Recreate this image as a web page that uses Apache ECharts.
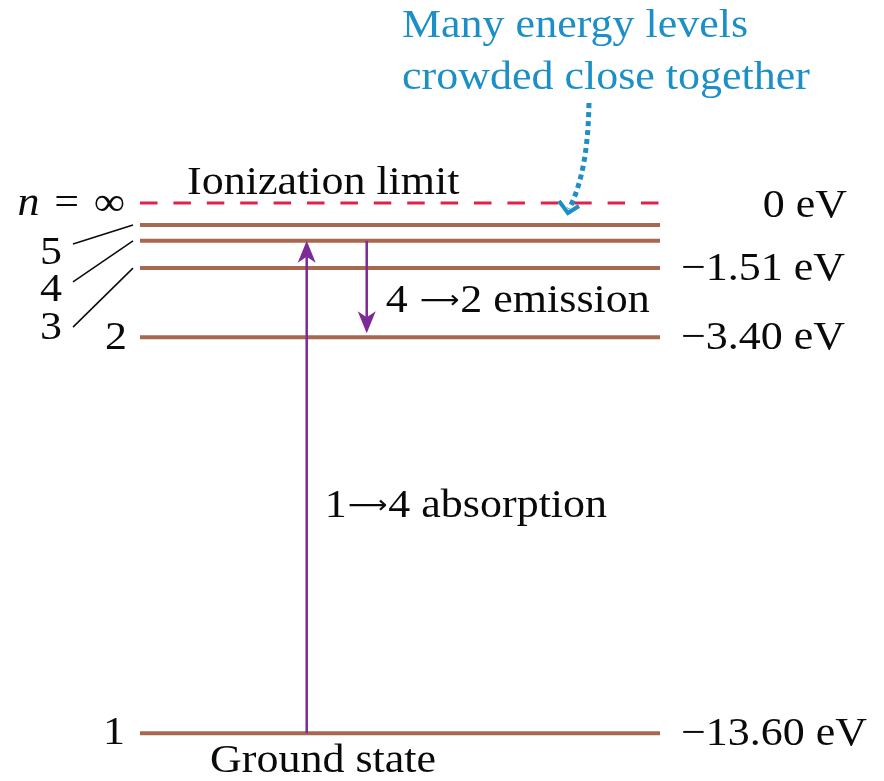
<!DOCTYPE html>
<html><head><meta charset="utf-8">
<script src="https://cdn.jsdelivr.net/npm/echarts@6/dist/echarts.min.js"></script>
<style>html,body{margin:0;padding:0;background:#fff}#c{width:884px;height:781px}</style>
</head><body><div id="c"></div>
<script>
// ---- data ----
const levelN = [1, 2, 3, 4, 5];
const levelEnergy = [-13.6, -3.44, -1.67, -0.97, -0.565];   // drawn position (eV scale)
const levelValueLabels = ['−13.60 eV', '−3.40 eV', '−1.51 eV', '', ''];
const limitEnergy = [0];
const limitValueLabels = ['0 eV'];
const limitName = 'Ionization limit';
const transFrom = [1, 4];
const transTo = [4, 2];
const transX = [32.06, 43.6];        // horizontal position along the levels (0–100)
const transLabels = ['1{a|⟶}4 absorption', '4 {a|⟶}2 emission'];
const noteLines = ['Many energy levels', 'crowded close together'];
const noteTarget = [82.3, 0];        // where the dotted arrow points (x 0–100, eV)
const groundLabel = 'Ground state';

// ---- styles / layout ----
const FAMILY = 'Liberation Serif';
const FS = 40, SX = 1.1;
const C = { level: '#a8684f', limit: '#e2214b', arrow: '#7b2a96', text: '#0a0a0a', note: '#1b8fc6' };
const PX_PER_EV = (733.3 - 203) / 13.6;
const Y_MIN = -14, Y_MAX = 0.5;
const arrowRich = { a: { fontFamily: 'DejaVu Sans', fontSize: 25, fill: C.text, padding: [0, 1, 0, 1] } };

function txt(x, y, text, o) {
  o = o || {};
  const st = {
    text: text,
    fontFamily: FAMILY,
    fontSize: FS,
    fontStyle: 'normal',
    fill: o.fill || C.text,
    align: o.align || 'left',
    verticalAlign: 'middle'
  };
  if (o.rich) st.rich = o.rich;
  return { type: 'text', x: x, y: y, scaleX: SX, style: st };
}

// left-label layout for each level (pixels relative to level start)
const leftLabelLayout = {
  1: { dx: -15, dy: 0 },
  2: { dx: -13, dy: 1 },
  3: { dx: -78, dy: 60, leader: [-67, 59] },
  4: { dx: -78, dy: 50, leader: [-67, 41] },
  5: { dx: -78, dy: 28, leader: [-67, 19] }
};
const transLayout = [{ dx: 18, dy: 19, gap: 0 }, { dx: 19, dy: 13, gap: 4 }];

const levelSeries = {
  type: 'custom', silent: true,
  data: levelN.map((n, i) => [n, levelEnergy[i]]),
  encode: { y: 1 },
  renderItem: function (params, api) {
    const i = params.dataIndex;
    const n = levelN[i];
    const e = api.value(1);
    const p0 = api.coord([0, e]);
    const p1 = api.coord([100, e]);
    const y = p0[1];
    const ch = [{ type: 'line', shape: { x1: p0[0], y1: y, x2: p1[0], y2: y },
      style: { stroke: C.level, lineWidth: 4 } }];
    const L = leftLabelLayout[n];
    ch.push(txt(p0[0] + L.dx, y + L.dy, String(n), { align: 'right' }));
    if (L.leader) {
      ch.push({ type: 'line', shape: { x1: p0[0] + L.leader[0], y1: y + L.leader[1], x2: p0[0] - 7, y2: y },
        style: { stroke: C.text, lineWidth: 1.5 } });
    }
    if (levelValueLabels[i]) ch.push(txt(p1[0] + 21, y + 1, levelValueLabels[i]));
    if (n === 1) ch.push(txt(p0[0] + 70, y + 28, groundLabel));
    return { type: 'group', children: ch };
  }
};

const limitSeries = {
  type: 'custom', silent: true,
  data: limitEnergy.map(e => [0, e]),
  encode: { y: 1 },
  renderItem: function (params, api) {
    const e = api.value(1);
    const p0 = api.coord([0, e]);
    const p1 = api.coord([100, e]);
    const y = p0[1];
    return { type: 'group', children: [
      { type: 'line', shape: { x1: p0[0], y1: y, x2: p1[0], y2: y },
        style: { stroke: C.limit, lineWidth: 3, lineDash: [17.5, 15.9] } },
      txt(p0[0] - 15, y + 1, '{i|n}\u2004=\u2004∞', { align: 'right',
        rich: { i: { fontStyle: 'italic', fontSize: FS, fontFamily: FAMILY, fill: C.text } } }),
      txt(p1[0] + 187, y + 3, limitValueLabels[params.dataIndex], { align: 'right' }),
      txt(p0[0] + 47, y - 20, limitName)
    ] };
  }
};

const transSeries = {
  type: 'custom', silent: true,
  data: transFrom.map((f, i) => [transX[i], levelEnergy[f - 1], levelEnergy[transTo[i] - 1]]),
  encode: { x: 0, y: [1, 2] },
  renderItem: function (params, api) {
    const i = params.dataIndex;
    const a = api.coord([api.value(0), api.value(1)]);
    const b = api.coord([api.value(0), api.value(2)]);
    const x = a[0];
    const dir = b[1] > a[1] ? 1 : -1;
    const lay = transLayout[i];
    const tip = b[1] - dir * lay.gap;
    const HL = 22, HW = 9, NOTCH = 6;
    const mid = (a[1] + b[1]) / 2;
    return { type: 'group', children: [
      { type: 'line', shape: { x1: x, y1: a[1], x2: x, y2: tip - dir * (HL - NOTCH) },
        style: { stroke: C.arrow, lineWidth: 2.5 } },
      { type: 'polygon', shape: { points: [[x, tip], [x - HW, tip - dir * HL], [x, tip - dir * (HL - NOTCH)], [x + HW, tip - dir * HL]] },
        style: { fill: C.arrow } },
      txt(x + lay.dx, mid + lay.dy, transLabels[i], { rich: arrowRich })
    ] };
  }
};

const noteSeries = {
  type: 'custom', silent: true,
  data: [noteTarget],
  encode: { x: 0, y: 1 },
  renderItem: function (params, api) {
    const t = api.coord([api.value(0), api.value(1)]);
    const tx = t[0], ty = t[1] + 10;
    return { type: 'group', children: [
      txt(tx - 166, ty - 187, noteLines[0], { fill: C.note }),
      txt(tx - 166, ty - 135, noteLines[1], { fill: C.note }),
      { type: 'bezierCurve', shape: { x1: tx + 21, y1: ty - 110, cpx1: tx + 20, cpy1: ty - 40, x2: tx + 1, y2: ty - 4 },
        style: { stroke: C.note, lineWidth: 5, lineDash: [5, 4], fill: null } },
      { type: 'polyline', shape: { points: [[tx - 9, ty - 12], [tx, ty], [tx + 11, ty - 7]] },
        style: { stroke: C.note, lineWidth: 4, fill: null } }
    ] };
  }
};

const chart = echarts.init(document.getElementById('c'), null, { renderer: 'canvas' });
chart.setOption({
  animation: false,
  backgroundColor: '#ffffff',
  grid: { left: 140, width: 520, top: 203 - Y_MAX * PX_PER_EV, height: (Y_MAX - Y_MIN) * PX_PER_EV },
  xAxis: { type: 'value', min: 0, max: 100, show: false },
  yAxis: { type: 'value', min: Y_MIN, max: Y_MAX, show: false },
  series: [limitSeries, levelSeries, transSeries, noteSeries]
});
</script></body></html>
